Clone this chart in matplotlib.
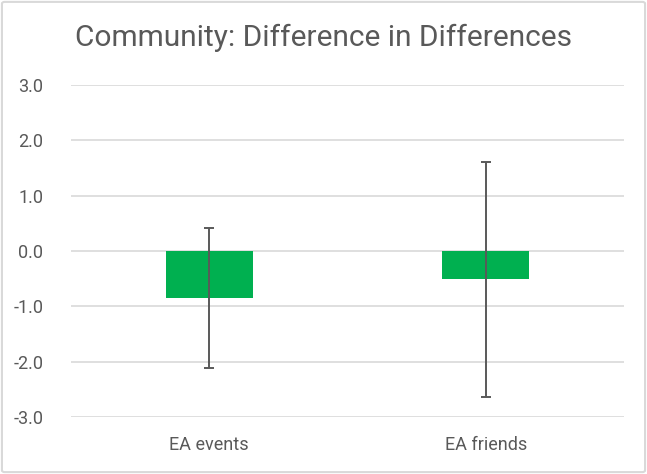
import matplotlib
matplotlib.use('Agg')
import matplotlib.pyplot as plt
from matplotlib.patches import FancyBboxPatch

# data
categories = ['EA events', 'EA friends']
values = [-0.85, -0.51]
err_upper = [0.42, 1.60]
err_lower = [-2.12, -2.63]
y_ticks = [-3.0, -2.0, -1.0, 0.0, 1.0, 2.0, 3.0]
title = 'Community: Difference in Differences'

text_color = '#595959'
grid_color = '#D9D9D9'
bar_color = '#00B050'

plt.rcParams['font.family'] = ['Roboto', 'DejaVu Sans']

fig = plt.figure(figsize=(6.47, 4.74), dpi=100, facecolor='white')

# outer chart border like the Excel chart area
border = FancyBboxPatch((0.003, 0.004), 0.994, 0.992, boxstyle='round,pad=0,rounding_size=0.004',
                        transform=fig.transFigure, facecolor='none', edgecolor=grid_color,
                        linewidth=1.5, zorder=5)
fig.patches.append(border)

ax = fig.add_axes([71 / 647, 1 - 417 / 474, (624 - 71) / 647, (417 - 85) / 474])
ax.set_facecolor('none')

x = list(range(len(categories)))
yerr = [[v - lo for v, lo in zip(values, err_lower)],
        [hi - v for v, hi in zip(values, err_upper)]]
ax.bar(x, values, width=0.315, color=bar_color, zorder=2)
ax.errorbar(x, values, yerr=yerr, fmt='none', ecolor=text_color, elinewidth=1.4,
            capsize=3.3, capthick=1.4, zorder=3)

ax.set_xlim(-0.5, len(categories) - 0.5)
ax.set_ylim(-3, 3)
ax.set_yticks(y_ticks)
ax.set_yticklabels([f'{t:.1f}' for t in y_ticks])
ax.set_xticks(x)
ax.set_xticklabels(categories)
ax.grid(axis='y', color=grid_color, linewidth=1.2, zorder=0)
ax.set_axisbelow(True)
for s in ax.spines.values():
    s.set_visible(False)
ax.tick_params(axis='both', length=0, colors=text_color, labelsize=13)
ax.tick_params(axis='y', pad=20)
ax.tick_params(axis='x', pad=14)

fig.text(0.5, 1 - 38 / 474, title, ha='center', va='center', fontsize=21.5, color=text_color)

fig.savefig('out.png', dpi=100, facecolor='white')
